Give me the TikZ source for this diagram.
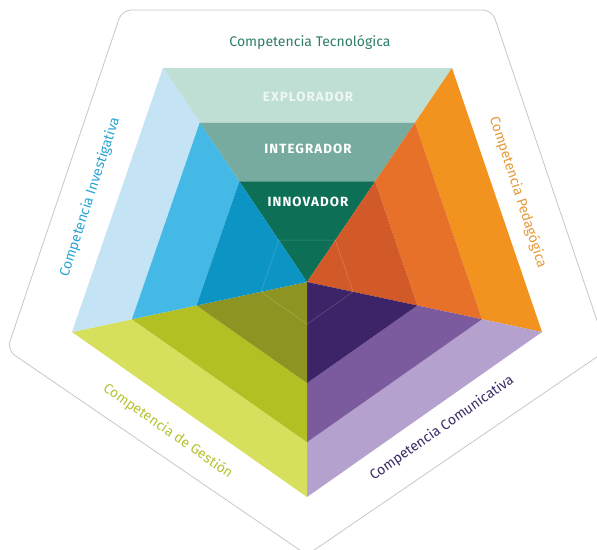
\documentclass[tikz,border=0pt]{standalone}
\usepackage{fontspec}
\setmainfont{Fira Sans}
\usetikzlibrary{calc}

% band colours per competence (outer, middle, inner)
\definecolor{tecA}{HTML}{BFDFD5}\definecolor{tecB}{HTML}{78AB9F}\definecolor{tecC}{HTML}{0E6F57}
\definecolor{pedA}{HTML}{F3931F}\definecolor{pedB}{HTML}{E8712A}\definecolor{pedC}{HTML}{D25A29}
\definecolor{comA}{HTML}{B5A1CD}\definecolor{comB}{HTML}{7C5A9E}\definecolor{comC}{HTML}{3D2367}
\definecolor{gesA}{HTML}{D6E05C}\definecolor{gesB}{HTML}{B3C024}\definecolor{gesC}{HTML}{8D9422}
\definecolor{invA}{HTML}{C4E4F5}\definecolor{invB}{HTML}{45B9E5}\definecolor{invC}{HTML}{0B94C4}
% label colours
\definecolor{tecT}{HTML}{2E7D6B}\definecolor{pedT}{HTML}{E59B3A}\definecolor{comT}{HTML}{3D2A66}
\definecolor{gesT}{HTML}{B8C232}\definecolor{invT}{HTML}{2BA4D3}
\definecolor{frame}{HTML}{C8C8C8}

\tikzset{
  levellabel/.style={text=white, inner sep=0pt,
    font=\fontsize{10}{12}\selectfont\bfseries\addfontfeature{LetterSpace=8}},
  complabel/.style={font=\fontsize{10.5}{12}\selectfont, inner sep=0pt},
  frameline/.style={draw=frame, line width=0.6pt, rounded corners=7pt, fill=white},
  innerline/.style={draw=white, opacity=0.2, line width=0.4pt}
}

\begin{document}
\begin{tikzpicture}[x=0.75pt,y=-0.75pt]
\useasboundingbox (0,0) rectangle (597,550);

% outer frame
\draw[frameline] (122,10) -- (492,10) -- (607,350) -- (307,555) -- (7,350) -- cycle;

% centre and corners of the coloured pentagon
\coordinate (C) at (307,282);
\coordinate (V1) at (163,68);
\coordinate (V2) at (452,68);
\coordinate (V3) at (542,332);
\coordinate (V4) at (307,497);
\coordinate (V5) at (72,332);

% three bands in each of the five sectors
\foreach \a/\b/\ca/\cb/\cc in {V1/V2/tecA/tecB/tecC, V2/V3/pedA/pedB/pedC,
    V3/V4/comA/comB/comC, V4/V5/gesA/gesB/gesC, V5/V1/invA/invB/invC} {
  \fill[\ca] (\a) -- (\b) -- ($(C)!0.745!(\b)$) -- ($(C)!0.745!(\a)$) -- cycle;
  \fill[\cb] ($(C)!0.745!(\a)$) -- ($(C)!0.745!(\b)$) -- ($(C)!0.47!(\b)$) -- ($(C)!0.47!(\a)$) -- cycle;
  \fill[\cc] ($(C)!0.47!(\a)$) -- ($(C)!0.47!(\b)$) -- (C) -- cycle;
}

% faint core pentagon
\draw[innerline] ($(C)!0.196!(V1)$) -- ($(C)!0.196!(V2)$) -- ($(C)!0.196!(V3)$)
  -- ($(C)!0.196!(V4)$) -- ($(C)!0.196!(V5)$) -- cycle;

% level names
\node[levellabel, text=white!75!tecA] (explorador) at (308,97) {EXPLORADOR};
\node[levellabel] (integrador) at (308,149) {INTEGRADOR};
\node[levellabel] (innovador) at (308,202) {INNOVADOR};

% competence names
\node[complabel, text=tecT] (tec) at (310,42) {Competencia Tecnológica};
\node[complabel, text=invT, rotate=72] (inv) at (90,197) {Competencia Investigativa};
\node[complabel, text=pedT, rotate=-72] (ped) at (518,192) {Competencia Pedagógica};
\node[complabel, text=gesT, rotate=-35] (ges) at (168,431) {Competencia de Gestión};
\node[complabel, text=comT, rotate=35] (com) at (442,428) {Competencia Comunicativa};
\end{tikzpicture}
\end{document}
